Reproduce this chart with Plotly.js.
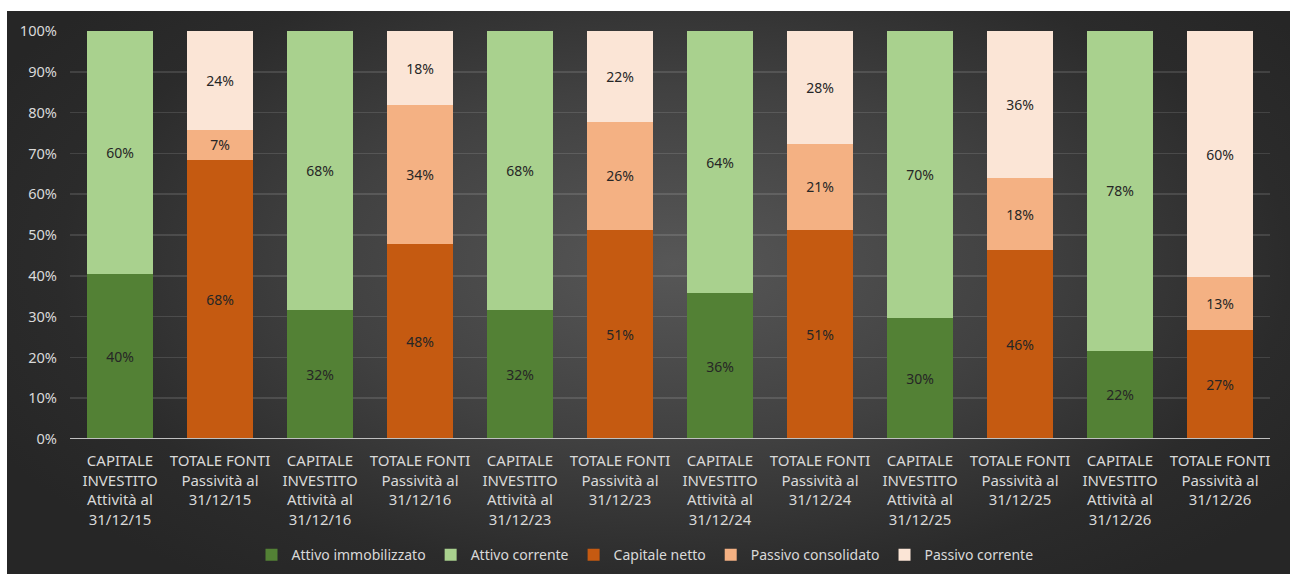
<!DOCTYPE html>
<html>
<head>
<meta charset="utf-8">
<script src="https://cdn.plot.ly/plotly-3.0.1.min.js"></script>
<style>
  html, body { margin:0; padding:0; background:#ffffff; }
  #bg { position:absolute; left:7px; top:11px; width:1283px; height:563px;
        background: radial-gradient(ellipse 60% 70% at 52% 45%, #575757 0%, #414141 45%, #2b2b2b 80%, #262626 100%); }
  #chart { position:absolute; left:0; top:0; width:1290px; height:574px; }
</style>
</head>
<body>
<div id="bg"></div>
<div id="chart"></div>
<script>
const categories = [
  "CAPITALE<br>INVESTITO<br>Attività al<br>31/12/15",
  "TOTALE FONTI<br>Passività al<br>31/12/15",
  "CAPITALE<br>INVESTITO<br>Attività al<br>31/12/16",
  "TOTALE FONTI<br>Passività al<br>31/12/16",
  "CAPITALE<br>INVESTITO<br>Attività al<br>31/12/23",
  "TOTALE FONTI<br>Passività al<br>31/12/23",
  "CAPITALE<br>INVESTITO<br>Attività al<br>31/12/24",
  "TOTALE FONTI<br>Passività al<br>31/12/24",
  "CAPITALE<br>INVESTITO<br>Attività al<br>31/12/25",
  "TOTALE FONTI<br>Passività al<br>31/12/25",
  "CAPITALE<br>INVESTITO<br>Attività al<br>31/12/26",
  "TOTALE FONTI<br>Passività al<br>31/12/26"
];
const attivoImmobilizzato = [40.4, null, 31.6, null, 31.6, null, 35.7, null, 29.6, null, 21.6, null];
const attivoCorrente      = [59.6, null, 68.4, null, 68.4, null, 64.3, null, 70.4, null, 78.4, null];
const capitaleNetto       = [null, 68.4, null, 47.8, null, 51.3, null, 51.3, null, 46.3, null, 26.6];
const passivoConsolidato  = [null, 7.4,  null, 34.0, null, 26.4, null, 21.1, null, 17.6, null, 13.0];
const passivoCorrente     = [null, 24.2, null, 18.2, null, 22.3, null, 27.6, null, 36.1, null, 60.4];
const yTicks = [0,10,20,30,40,50,60,70,80,90,100];
const yTickLabels = yTicks.map(v => v + "%");

const seriesDefs = [
  {name:"Attivo immobilizzato", y:attivoImmobilizzato, color:"#538135"},
  {name:"Attivo corrente",      y:attivoCorrente,      color:"#A9D18E"},
  {name:"Capitale netto",       y:capitaleNetto,       color:"#C55A11"},
  {name:"Passivo consolidato",  y:passivoConsolidato,  color:"#F4B183"},
  {name:"Passivo corrente",     y:passivoCorrente,     color:"#FBE5D6"}
];

const traces = seriesDefs.map(s => ({
  type:"bar",
  name:s.name,
  x:categories,
  y:s.y,
  marker:{color:s.color, line:{width:0}},
  texttemplate:"%{y:.0f}%",
  textposition:"inside",
  insidetextanchor:"middle",
  textangle:0,
  constraintext:"none",
  textfont:{family:"Noto Sans, sans-serif", size:14, color:"#262626"},
  hoverinfo:"skip"
}));

const layout = {
  width:1290, height:574,
  barmode:"stack",
  bargap:0.34,
  paper_bgcolor:"rgba(0,0,0,0)",
  plot_bgcolor:"rgba(0,0,0,0)",
  margin:{l:70, r:20, t:31, b:135, autoexpand:false},
  font:{family:"Noto Sans, sans-serif", color:"#d9d9d9", size:14},
  showlegend:true,
  legend:{orientation:"h", x:0.5, xanchor:"center", xref:"container",
          y:0.033, yanchor:"middle", yref:"container",
          font:{size:14, color:"#d9d9d9"}, traceorder:"normal", itemwidth:30},
  xaxis:{type:"category", showgrid:false, zeroline:false, ticks:"", automargin:false,
         ticklabelstandoff:11,
         tickfont:{size:15, color:"#d9d9d9"}, showline:false, fixedrange:true},
  yaxis:{range:[0,100], tickvals:yTicks, ticktext:yTickLabels, showgrid:true, automargin:false,
         gridcolor:"rgba(255,255,255,0.12)", gridwidth:1.5, zeroline:false,
         ticklabelstandoff:12,
         showline:false, ticks:"", ticklen:0, tickfont:{size:14.6, color:"#d9d9d9"}, fixedrange:true},
  shapes:[{type:"line", xref:"paper", yref:"y", x0:0, x1:1, y0:0, y1:0,
           line:{color:"#bfbfbf", width:2}}]
};

Plotly.newPlot("chart", traces, layout, {displayModeBar:false, staticPlot:true});
</script>
</body>
</html>
